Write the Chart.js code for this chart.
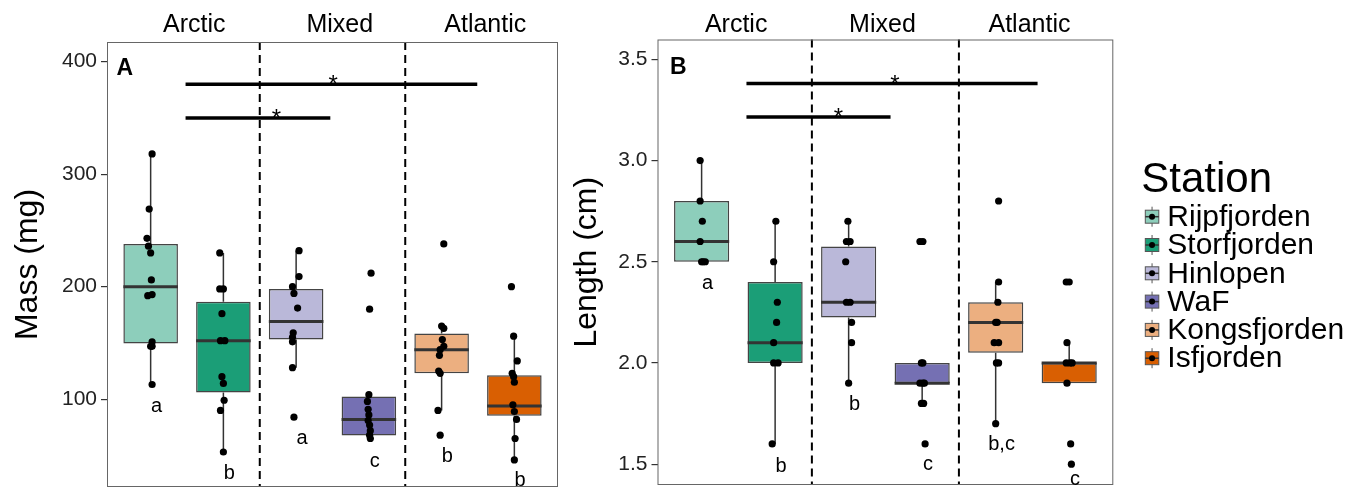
<!DOCTYPE html>
<html>
<head>
<meta charset="utf-8">
<script src="https://cdn.jsdelivr.net/npm/chart.js@4.4.1/dist/chart.umd.min.js"></script>
<style>
  body { margin: 0; background: #fff; }
  #wrap { position: relative; width: 1362px; height: 487px; }
  #massChart { position: absolute; left: 0; top: 0; }
  #lengthChart { position: absolute; left: 560px; top: 0; }
</style>
</head>
<body>
<div id="wrap">
  <canvas id="massChart" width="560" height="487"></canvas>
  <canvas id="lengthChart" width="802" height="487"></canvas>
</div>
<script>
const stations = ['Rijpfjorden', 'Storfjorden', 'Hinlopen', 'WaF', 'Kongsfjorden', 'Isfjorden'];
const fills = ['#8dcebb', '#1b9e77', '#bab8d9', '#7570b3', '#ecaf80', '#d95f02'];
const regions = ['Arctic', 'Mixed', 'Atlantic'];

// Panel A - mass (mg). box = [lower whisker, q1, median, q3, upper whisker]
const massBoxes = [
    [113, 149.5, 200, 238, 318],
    [52.6, 106, 152, 186.5, 230],
    [128, 153, 169, 198, 232],
    [63, 67.7, 82, 102.4, 104.4],
    [90, 123, 144, 158.4, 165],
    [46, 85.2, 94, 121.3, 156]
];
const massPoints = [
    [318, 269, 243, 236, 230, 206, 193, 192, 151, 147, 147, 113],
    [230, 198, 198, 176, 152, 152, 120, 114, 99, 90, 53],
    [232, 209, 200, 194, 181, 159, 155, 151, 128, 84],
    [212, 180, 104, 98, 91, 86, 81, 77, 72, 68, 65],
    [238, 165, 163, 153, 147, 144, 139, 125, 123, 90, 68],
    [200, 156, 134, 123, 120, 115, 95, 89, 82, 65, 46]
];
const massJitter = [
    [0.02, -0.02, -0.05, -0.03, 0.0, 0.01, 0.02, -0.04, 0.02, 0.0, 0.02, 0.02],
    [-0.05, -0.05, 0.0, -0.02, -0.04, 0.02, -0.02, 0.0, 0.01, -0.04, 0.0],
    [0.04, 0.04, -0.05, -0.03, 0.02, -0.04, -0.05, -0.05, -0.05, -0.03],
    [0.03, 0.01, 0.0, -0.02, -0.01, 0.0, -0.01, 0.01, 0.02, 0.01, 0.02],
    [0.03, 0.0, 0.03, 0.01, 0.03, -0.02, -0.03, -0.04, -0.02, -0.05, -0.02],
    [-0.04, -0.01, 0.04, -0.03, -0.01, 0.0, -0.02, 0.0, 0.03, 0.01, 0.0]
];
const massTicks = [100, 200, 300, 400];
const massLetters = ['a', 'b', 'a', 'c', 'b', 'b'];
const massLetterY = [88.7, 28.6, 60, 39.3, 44.3, 22.5];
// significance bars [from, to, level] and star positions
const massSig = [[1.48, 5.49, 380], [1.48, 3.47, 350]];
const massStars = [3.51, 2.73];

// Panel B - length (cm)
const lengthBoxes = [
    [2.5, 2.5, 2.6, 2.8, 3.0],
    [1.6, 2.0, 2.1, 2.4, 2.7],
    [1.9, 2.225, 2.3, 2.575, 2.7],
    [1.8, 1.9, 1.9, 2.0, 2.0],
    [1.7, 2.05, 2.2, 2.3, 2.4],
    [1.9, 1.9, 2.0, 2.0, 2.1]
];
const lengthPoints = [
    [3.0, 2.8, 2.7, 2.6, 2.5, 2.5, 2.5],
    [2.7, 2.5, 2.3, 2.2, 2.1, 2.0, 2.0, 1.6],
    [2.7, 2.6, 2.6, 2.5, 2.3, 2.3, 2.2, 2.1, 1.9],
    [2.6, 2.6, 2.0, 2.0, 1.9, 1.9, 1.9, 1.8, 1.8, 1.6],
    [2.8, 2.4, 2.3, 2.2, 2.2, 2.1, 2.1, 2.0, 2.0, 1.7],
    [2.4, 2.4, 2.1, 2.0, 2.0, 2.0, 1.9, 1.6, 1.5]
];
const lengthJitter = [
    [-0.02, -0.02, 0.01, -0.02, 0.0, 0.05, 0.02],
    [0.01, -0.02, 0.03, 0.02, -0.02, -0.02, 0.04, -0.04],
    [-0.01, -0.03, 0.02, -0.04, -0.03, 0.02, 0.04, 0.04, 0.0],
    [-0.03, 0.01, 0.01, -0.01, -0.03, 0.01, 0.03, -0.01, 0.02, 0.04],
    [0.04, 0.04, 0.03, 0.0, 0.02, -0.02, 0.04, 0.01, 0.04, 0.0],
    [-0.04, 0.0, -0.03, -0.04, 0.01, 0.04, -0.03, 0.02, 0.03]
];
const lengthTicks = [1.5, 2.0, 2.5, 3.0, 3.5];
const lengthLetters = ['a', 'b', 'b', 'c', 'b,c', 'c'];
const lengthLetterY = [2.366, 1.46, 1.769, 1.469, 1.568, 1.397];
const lengthSig = [[1.61, 5.57, 3.38], [1.61, 3.57, 3.215]];
const lengthStars = [3.63, 2.86];

const FONT = "'Liberation Sans', Arial, sans-serif";

function boxplotPlugin(p) {
    return {
        id: 'boxplot' + p.tag,
        beforeDatasetsDraw(chart) {
            const {ctx, chartArea, scales: {x, y}} = chart;
            ctx.save();
            // region separators
            ctx.strokeStyle = '#000';
            ctx.lineWidth = 2;
            ctx.setLineDash([8, 5]);
            [2.5, 4.5].forEach(v => {
                const px = x.getPixelForValue(v);
                ctx.beginPath();
                ctx.moveTo(px, chartArea.top);
                ctx.lineTo(px, chartArea.bottom);
                ctx.stroke();
            });
            ctx.setLineDash([]);
            // whiskers
            ctx.strokeStyle = '#333';
            ctx.lineWidth = 1.5;
            p.boxes.forEach((b, i) => {
                const px = x.getPixelForValue(i + 1);
                ctx.beginPath();
                ctx.moveTo(px, y.getPixelForValue(b[0]));
                ctx.lineTo(px, y.getPixelForValue(b[1]));
                ctx.moveTo(px, y.getPixelForValue(b[3]));
                ctx.lineTo(px, y.getPixelForValue(b[4]));
                ctx.stroke();
            });
            ctx.restore();
        },
        afterDatasetDraw(chart, args) {
            if (args.index !== 0) return;
            const {ctx, scales: {y}} = chart;
            const bars = chart.getDatasetMeta(0).data;
            ctx.save();
            ctx.strokeStyle = '#333';
            ctx.lineWidth = 3;
            p.boxes.forEach((b, i) => {
                const el = bars[i];
                const py = y.getPixelForValue(b[2]);
                ctx.beginPath();
                ctx.moveTo(el.x - el.width / 2, py);
                ctx.lineTo(el.x + el.width / 2, py);
                ctx.stroke();
            });
            ctx.restore();
        },
        afterDraw(chart) {
            const {ctx, chartArea, scales: {x, y}} = chart;
            ctx.save();
            // panel border
            ctx.strokeStyle = '#666';
            ctx.lineWidth = 1;
            ctx.strokeRect(chartArea.left + 0.5, chartArea.top + 0.5,
                chartArea.right - chartArea.left - 1, chartArea.bottom - chartArea.top - 1);

            // significance bars
            ctx.strokeStyle = '#000';
            ctx.lineWidth = 3.5;
            ctx.fillStyle = '#000';
            ctx.font = '24px ' + FONT;
            ctx.textAlign = 'center';
            ctx.textBaseline = 'alphabetic';
            p.sig.forEach((s, i) => {
                const py = y.getPixelForValue(s[2]);
                ctx.beginPath();
                ctx.moveTo(x.getPixelForValue(s[0]), py);
                ctx.lineTo(x.getPixelForValue(s[1]), py);
                ctx.stroke();
                ctx.fillText('*', x.getPixelForValue(p.stars[i]), py + 8);
            });

            // group letters
            ctx.font = '20px ' + FONT;
            p.letters.forEach((t, i) => {
                ctx.fillText(t, x.getPixelForValue(i + 1.08), y.getPixelForValue(p.letterY[i]));
            });

            // region headers above the panel
            ctx.font = '25px ' + FONT;
            regions.forEach((r, i) => {
                ctx.fillText(r, x.getPixelForValue(p.headerX[i]), 31.5);
            });

            // panel tag
            ctx.font = 'bold 23px ' + FONT;
            ctx.textAlign = 'left';
            ctx.fillText(p.tag, x.getPixelForValue(p.tagPos[0]), y.getPixelForValue(p.tagPos[1]));

            // legend (panel B only)
            if (p.legend) {
                const lx = chartArea.right + 28;
                ctx.font = '42px ' + FONT;
                ctx.fillText('Station', lx, 192);
                ctx.font = '30px ' + FONT;
                ctx.textBaseline = 'middle';
                stations.forEach((s, i) => {
                    const cy = 216.7 + i * 28.3;
                    const kx = lx + 4, kw = 13.5;
                    ctx.strokeStyle = '#555';
                    ctx.lineWidth = 1;
                    ctx.beginPath();
                    ctx.moveTo(kx + kw / 2, cy - 10);
                    ctx.lineTo(kx + kw / 2, cy + 10);
                    ctx.stroke();
                    ctx.fillStyle = fills[i];
                    ctx.fillRect(kx, cy - 6.5, kw, 13);
                    ctx.strokeRect(kx, cy - 6.5, kw, 13);
                    ctx.strokeStyle = '#333';
                    ctx.lineWidth = 1.5;
                    ctx.beginPath();
                    ctx.moveTo(kx, cy);
                    ctx.lineTo(kx + kw, cy);
                    ctx.stroke();
                    ctx.fillStyle = '#000';
                    ctx.beginPath();
                    ctx.arc(kx + kw / 2, cy, 3, 0, Math.PI * 2);
                    ctx.fill();
                    ctx.fillText(s, lx + 26, cy + 1);
                });
            }
            ctx.restore();
        }
    };
}

function makePanel(canvasId, p) {
    const boxData = p.boxes.map((b, i) => ({x: i + 1, y: [b[1], b[3]]}));
    const pointData = [];
    p.points.forEach((vals, i) => {
        vals.forEach((v, j) => pointData.push({x: i + 1 + p.jitter[i][j], y: v}));
    });

    return new Chart(document.getElementById(canvasId), {
        type: 'bar',
        data: {
            datasets: [{
                label: 'box',
                data: boxData,
                backgroundColor: fills,
                borderColor: '#444',
                borderWidth: 1.5,
                borderSkipped: false,
                barPercentage: 0.75,
                categoryPercentage: 1,
                order: 2
            }, {
                type: 'scatter',
                label: 'points',
                data: pointData,
                backgroundColor: '#000',
                borderWidth: 0,
                pointRadius: 3.6,
                order: 1
            }]
        },
        options: {
            responsive: false,
            animation: false,
            layout: {padding: p.padding, autoPadding: false},
            plugins: {
                legend: {display: false},
                tooltip: {enabled: false}
            },
            scales: {
                x: {
                    type: 'linear',
                    min: 0.4,
                    max: 6.6,
                    offset: false,
                    display: false,
                    afterBuildTicks: s => { s.ticks = stations.map((n, i) => ({value: i + 1})); }
                },
                y: {
                    min: p.yMin,
                    max: p.yMax,
                    afterBuildTicks: s => { s.ticks = p.ticks.map(v => ({value: v})); },
                    afterFit: s => {
                        s.width = p.axisWidth;
                        s.paddingTop = 0;
                        s.paddingBottom = 0;
                    },
                    border: {display: false},
                    grid: {drawOnChartArea: false, tickLength: 6, color: '#333', lineWidth: 1.2},
                    ticks: {
                        padding: 4,
                        color: '#222',
                        font: {family: FONT, size: 21},
                        callback: v => p.tickFmt(v)
                    },
                    title: {
                        display: true,
                        text: p.title,
                        color: '#000',
                        font: {family: FONT, size: 32},
                        padding: {top: p.titlePad, bottom: 0}
                    }
                }
            }
        },
        plugins: [boxplotPlugin(p)]
    });
}

makePanel('massChart', {
    tag: 'A',
    boxes: massBoxes, points: massPoints, jitter: massJitter,
    ticks: massTicks, tickFmt: v => String(v),
    letters: massLetters, letterY: massLetterY,
    sig: massSig, stars: massStars,
    headerX: [1.6, 3.6, 5.6], tagPos: [0.53, 388],
    yMin: 21.9, yMax: 417.5,
    title: 'Mass (mg)', titlePad: 9, axisWidth: 107,
    padding: {top: 42, right: 2, bottom: 0, left: 0}
});

makePanel('lengthChart', {
    tag: 'B',
    boxes: lengthBoxes, points: lengthPoints, jitter: lengthJitter,
    ticks: lengthTicks, tickFmt: v => v.toFixed(1),
    letters: lengthLetters, letterY: lengthLetterY,
    sig: lengthSig, stars: lengthStars,
    headerX: [1.47, 3.46, 5.46], tagPos: [0.57, 3.43],
    yMin: 1.397, yMax: 3.598,
    title: 'Length (cm)', titlePad: 8, axisWidth: 97.5,
    padding: {top: 39.5, right: 248.7, bottom: 2, left: 0},
    legend: true
});
</script>
</body>
</html>
